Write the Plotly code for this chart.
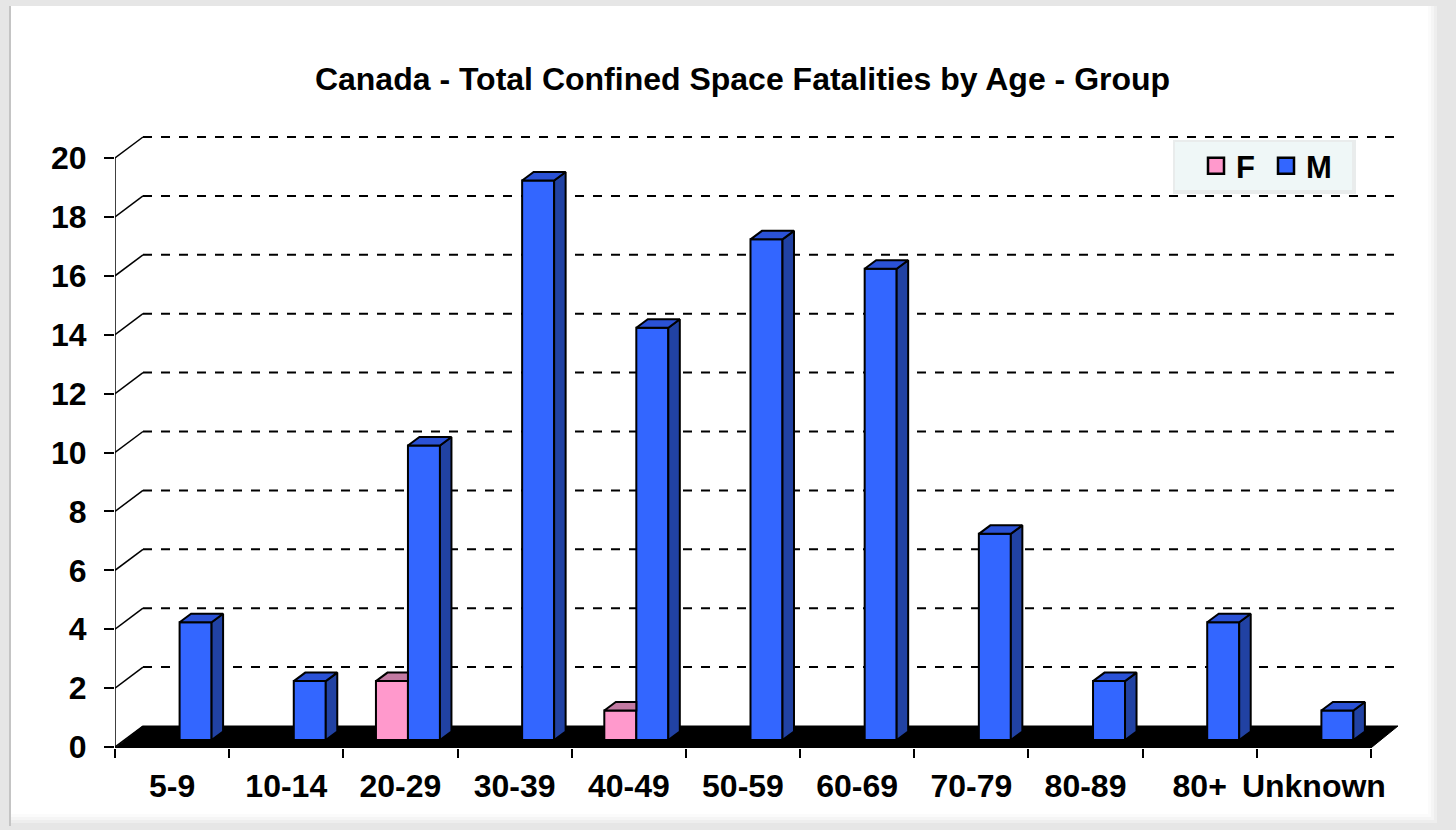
import plotly.graph_objects as go

# ---------------- data ----------------
categories = ["5-9", "10-14", "20-29", "30-39", "40-49", "50-59", "60-69",
              "70-79", "80-89", "80+", "Unknown"]
female = [0, 0, 2, 0, 1, 0, 0, 0, 0, 0, 0]
male = [4, 2, 10, 19, 14, 17, 16, 7, 2, 4, 1]
y_ticks = [0, 2, 4, 6, 8, 10, 12, 14, 16, 18, 20]
title_text = "Canada - Total Confined Space Fatalities by Age - Group"

# ---------------- geometry / style ----------------
W, H = 1456, 830
L, R, T, B = 115, 1400, 130, 748          # plot area in px
UX = 114.18                                # px per category
UY = 29.45                                 # px per unit value
ZERO_PX = 740                              # bar base (front faces)
x_range = [-0.5, -0.5 + (R - L) / UX]
y_range = [-(B - ZERO_PX) / UY, (ZERO_PX - T) / UY]

BAR_W = 32 / UX
OFF_F = -24.5 / UX
OFF_M = 7.5 / UX
DX = 11.5 / UX
DY = 8.5 / UY
FRONT_SHIFT = -7 / UY      # front axis offset
BACK_SHIFT = 14 / UY       # back wall offset
BACK_X0 = -0.5 + 28 / UX
BACK_X1 = -0.5 + 1283 / UX
AX_END = len(categories) - 0.5

F_FRONT, F_TOP = "#FF99CC", "#C27AA2"
M_FRONT, M_TOP, M_SIDE = "#3366FF", "#2B52D6", "#2142A3"
FONT = "Liberation Sans, Arial, sans-serif"
EDGE = dict(color="black", width=2)


def px(x):
    return (x - L) / (R - L)


def py(y):
    return (B - y) / (B - T)


fig = go.Figure()

# front faces (bars)
fx = [i for i, v in enumerate(female) if v]
fy = [v for v in female if v]
fig.add_trace(go.Bar(x=fx, y=fy, name="F", width=BAR_W, offset=OFF_F,
                     marker=dict(color=F_FRONT, line=EDGE), showlegend=False,
                     legendgroup="F", hoverinfo="skip"))
fig.add_trace(go.Bar(x=list(range(len(male))), y=male, name="M", width=BAR_W, offset=OFF_M,
                     marker=dict(color=M_FRONT, line=EDGE), showlegend=False,
                     legendgroup="M", hoverinfo="skip"))


# 3-D top/side faces computed from the values
def poly_trace(xs, ys, color):
    return go.Scatter(x=xs, y=ys, mode="lines", fill="toself", fillcolor=color,
                      line=EDGE, showlegend=False, hoverinfo="skip")


ftx, fty = [], []
for i, v in enumerate(female):
    if not v:
        continue
    x0 = i + OFF_F
    x1 = x0 + BAR_W
    ftx += [x0, x1, x1, x0 + DX, x0, None]
    fty += [v, v, v + DY, v + DY, v, None]
fig.add_trace(poly_trace(ftx, fty, F_TOP))

mtx, mty, msx, msy = [], [], [], []
for i, v in enumerate(male):
    x0 = i + OFF_M
    x1 = x0 + BAR_W
    mtx += [x0, x1, x1 + DX, x0 + DX, x0, None]
    mty += [v, v, v + DY, v + DY, v, None]
    msx += [x1, x1, x1 + DX, x1 + DX, x1, None]
    msy += [0, v, v + DY, DY, 0, None]
fig.add_trace(poly_trace(msx, msy, M_SIDE))
fig.add_trace(poly_trace(mtx, mty, M_TOP))

# legend keys (square swatches like the original)
for name, col in (("F", F_FRONT), ("M", M_FRONT)):
    fig.add_trace(go.Scatter(x=[None], y=[None], mode="markers", name=name,
                             legendgroup=name,
                             marker=dict(symbol="square", size=16, color=col,
                                         line=dict(color="black", width=2.5))))

# ---------------- decorations ----------------
shapes = []
# chart frame (white card with soft edges)
shapes.append(dict(type="rect", xref="paper", yref="paper", x0=px(11), x1=px(1440),
                   y0=py(826), y1=py(6), fillcolor="white", line=dict(width=0),
                   layer="below"))
shapes.append(dict(type="line", xref="paper", yref="paper", x0=px(10), x1=px(10),
                   y0=py(826), y1=py(6), line=dict(color="#C4C4C4", width=2),
                   layer="below"))
for k, c in enumerate(["#FBFBFB", "#F5F5F5", "#EEEEEE", "#E6E6E6"]):
    shapes.append(dict(type="rect", xref="paper", yref="paper",
                       x0=px(1428 + 3 * k), x1=px(1431 + 3 * k),
                       y0=py(826), y1=py(6), fillcolor=c, line=dict(width=0),
                       layer="below"))
    shapes.append(dict(type="rect", xref="paper", yref="paper",
                       x0=px(11), x1=px(1428 + 3 * k),
                       y0=py(817 + 3 * k), y1=py(814 + 3 * k),
                       fillcolor=c, line=dict(width=0), layer="below"))

# back-wall dashed gridlines and connectors
for v in y_ticks:
    if v > 0:
        shapes.append(dict(type="line", xref="x", yref="y", x0=BACK_X0, x1=BACK_X1,
                           y0=v + BACK_SHIFT, y1=v + BACK_SHIFT,
                           line=dict(color="black", width=2, dash="dash"), layer="below"))
    shapes.append(dict(type="line", xref="x", yref="y", x0=-0.5, x1=BACK_X0,
                       y0=v + FRONT_SHIFT, y1=v + BACK_SHIFT,
                       line=dict(color="black", width=1.5), layer="below"))
# front value axis line
shapes.append(dict(type="line", xref="x", yref="y", x0=-0.5, x1=-0.5,
                   y0=y_ticks[0] + FRONT_SHIFT, y1=y_ticks[-1] + FRONT_SHIFT,
                   line=dict(color="black", width=1.5), layer="below"))
# floor
floor_path = (f"M {-0.5},{FRONT_SHIFT - 0.03} L {AX_END},{FRONT_SHIFT - 0.03} "
              f"L {BACK_X1},{BACK_SHIFT} L {BACK_X0},{BACK_SHIFT} Z")
shapes.append(dict(type="path", xref="x", yref="y", path=floor_path,
                   fillcolor="black", line=dict(color="black", width=1), layer="below"))

# legend box + soft shadow
shapes.append(dict(type="rect", xref="paper", yref="paper", x0=px(1173), x1=px(1356),
                   y0=py(194), y1=py(140), fillcolor="#E9ECEC", line=dict(width=0),
                   layer="above"))
shapes.append(dict(type="rect", xref="paper", yref="paper", x0=px(1175), x1=px(1352),
                   y0=py(190), y1=py(142), fillcolor="#EFF7F7", line=dict(width=0),
                   layer="above"))

fig.update_layout(
    width=W, height=H,
    margin=dict(l=L, r=W - R, t=T, b=H - B, autoexpand=False),
    paper_bgcolor="#E6E6E6", plot_bgcolor="rgba(0,0,0,0)",
    barmode="overlay",
    shapes=shapes,
    title=dict(text=title_text, x=742.5 / W, y=1 - 79 / H, xanchor="center",
               yanchor="middle", xref="container", yref="container",
               font=dict(family=FONT, size=32, color="black", weight="bold")),
    legend=dict(orientation="h", x=1196 / W, y=1 - 166 / H, xanchor="left",
                yanchor="middle", xref="container", yref="container",
                bgcolor="rgba(0,0,0,0)", borderwidth=0, itemsizing="trace",
                entrywidth=25, entrywidthmode="pixels",
                font=dict(family=FONT, size=31, color="black", weight="bold")),
    xaxis=dict(range=x_range, tickvals=list(range(len(categories))), ticktext=categories,
               ticks="", showgrid=False, zeroline=False, showline=False,
               ticklabelstandoff=16,
               tickfont=dict(family=FONT, size=32, color="black", weight="bold"),
               minor=dict(tickvals=[i - 0.5 for i in range(len(categories) + 1)],
                          ticks="outside", ticklen=9, tickcolor="black", tickwidth=1.5,
                          showgrid=False)),
    yaxis=dict(range=y_range, tickvals=[v + FRONT_SHIFT for v in y_ticks],
               ticktext=[str(v) for v in y_ticks], ticks="outside", ticklen=10,
               tickcolor="black", tickwidth=1.5, showgrid=False, zeroline=False,
               showline=False, ticklabelstandoff=11,
               tickfont=dict(family=FONT, size=32, color="black", weight="bold")),
    showlegend=True,
)

fig.write_html("out.html", config={"displayModeBar": False},
               post_script="document.body.style.margin='0px';"
                           "document.body.style.padding='0px';")
